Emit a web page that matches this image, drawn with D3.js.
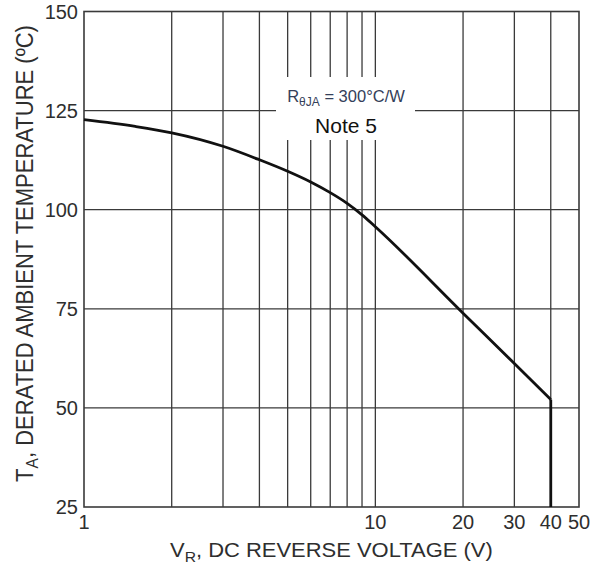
<!DOCTYPE html>
<html>
<head>
<meta charset="utf-8">
<script src="https://cdn.jsdelivr.net/npm/d3@7"></script>
<style>
  body { margin: 0; background: #fff; }
  svg { display: block; font-family: 'Liberation Sans', Arial, sans-serif; }
</style>
</head>
<body>
<div id="chart"></div>
<script>
// Derating curve
var voltage = [1, 1.5, 2, 3, 4, 5, 6, 7, 8, 9, 10, 20, 30, 40];
var tempA = [122.7, 121.0, 119.4, 116.0, 112.6, 109.7, 107.0, 104.3, 101.6, 98.7, 95.7, 73.9, 61.2, 52.1];
var cutoffV = [40, 40];
var cutoffT = [52.1, 25];

var xTickValues = [1, 10, 20, 30, 40, 50];
var xGridValues = [2, 3, 4, 5, 6, 7, 8, 9, 10, 20, 30, 40];
var yTickValues = [25, 50, 75, 100, 125, 150];
var yGridValues = [50, 75, 100, 125];

var width = 594, height = 567;
var margin = {top: 11.5, right: 15, bottom: 60, left: 84};

var svg = d3.select('#chart').append('svg')
  .attr('width', width)
  .attr('height', height);

var x = d3.scaleLog()
  .domain([1, 50])
  .range([margin.left, width - margin.right]);

var y = d3.scaleLinear()
  .domain([25, 150])
  .range([height - margin.bottom, margin.top]);

var gridColor = '#3a3a3a';
var textColor = '#2e2e2e';

// grid
var grid = svg.append('g').attr('stroke', gridColor).attr('stroke-width', 1.3);

grid.selectAll('line.v').data(xGridValues).join('line')
  .attr('class', 'v')
  .attr('x1', function(d) { return x(d); })
  .attr('x2', function(d) { return x(d); })
  .attr('y1', y(25))
  .attr('y2', y(150));

grid.selectAll('line.h').data(yGridValues).join('line')
  .attr('class', 'h')
  .attr('x1', x(1))
  .attr('x2', x(50))
  .attr('y1', function(d) { return y(d); })
  .attr('y2', function(d) { return y(d); });

// frame
svg.append('rect')
  .attr('x', x(1))
  .attr('y', y(150))
  .attr('width', x(50) - x(1))
  .attr('height', y(25) - y(150))
  .attr('fill', 'none')
  .attr('stroke', gridColor)
  .attr('stroke-width', 1.6);

// the derating curve
var pts = voltage.map(function(v, i) { return [v, tempA[i]]; });
var dropPts = cutoffV.map(function(v, i) { return [v, cutoffT[i]]; });

var line = d3.line()
  .x(function(d) { return x(d[0]); })
  .y(function(d) { return y(d[1]); });

svg.append('path')
  .datum(pts)
  .attr('d', line.curve(d3.curveMonotoneX))
  .attr('fill', 'none')
  .attr('stroke', '#111')
  .attr('stroke-width', 2.8)
  .attr('stroke-linejoin', 'round');

svg.append('path')
  .datum(dropPts)
  .attr('d', line.curve(d3.curveLinear))
  .attr('fill', 'none')
  .attr('stroke', '#111')
  .attr('stroke-width', 2.8);

// annotation box, hides the grid behind it
svg.append('rect')
  .attr('x', 276)
  .attr('y', 77)
  .attr('width', 139)
  .attr('height', 63)
  .attr('fill', '#fff');

var rLabel = svg.append('text')
  .attr('x', 346)
  .attr('y', 101.7)
  .attr('text-anchor', 'middle')
  .attr('font-size', 16.5)
  .attr('fill', '#34405a');
rLabel.append('tspan').text('R');
rLabel.append('tspan').attr('font-size', 12).attr('dy', 4).text('θJA');
rLabel.append('tspan').attr('dy', -4).text(' = 300°C/W');

svg.append('text')
  .attr('x', 346)
  .attr('y', 132.7)
  .attr('text-anchor', 'middle')
  .attr('font-size', 21)
  .attr('fill', '#111')
  .text('Note 5');

// tick labels
svg.append('g').selectAll('text').data(yTickValues).join('text')
  .attr('x', 78)
  .attr('y', function(d) { return y(d) + 7; })
  .attr('text-anchor', 'end')
  .attr('font-size', 20)
  .attr('fill', textColor)
  .text(function(d) { return d; });

svg.append('g').selectAll('text').data(xTickValues).join('text')
  .attr('x', function(d) { return x(d); })
  .attr('y', 529)
  .attr('text-anchor', 'middle')
  .attr('font-size', 20)
  .attr('fill', textColor)
  .text(function(d) { return d; });

// axis titles, squeezed to the length they have on the sheet
function squeeze(sel, target) {
  var len = sel.node().getComputedTextLength();
  return target / len;
}

var xTitle = svg.append('text')
  .attr('font-size', 21)
  .attr('fill', textColor);
xTitle.append('tspan').text('V');
xTitle.append('tspan').attr('font-size', 15).attr('dy', 5).text('R');
xTitle.append('tspan').attr('dy', -5).text(', DC REVERSE VOLTAGE (V)');
xTitle.attr('transform', 'translate(170,556.7) scale(' + squeeze(xTitle, 323) + ',1)');

var yTitle = svg.append('text')
  .attr('text-anchor', 'middle')
  .attr('font-size', 24)
  .attr('fill', textColor);
yTitle.append('tspan').text('T');
yTitle.append('tspan').attr('font-size', 17).attr('dy', 5).text('A');
yTitle.append('tspan').attr('dy', -5).text(', DERATED AMBIENT TEMPERATURE (ºC)');
yTitle.attr('transform', 'translate(33,253.5) rotate(-90) scale(' + squeeze(yTitle, 457) + ',1)');
</script>
</body>
</html>
